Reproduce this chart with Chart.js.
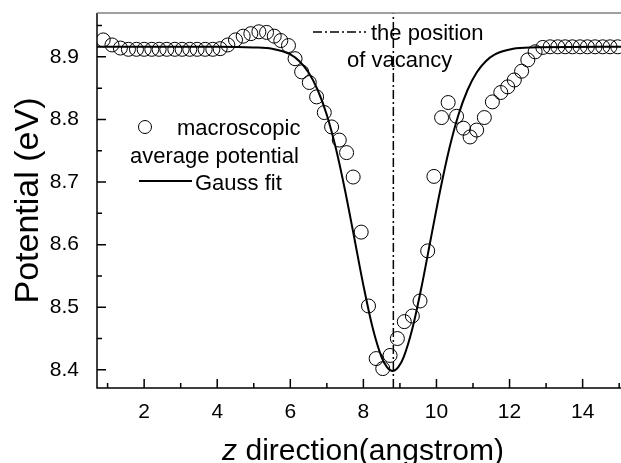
<!DOCTYPE html>
<html>
<head>
<meta charset="utf-8">
<script src="https://cdn.jsdelivr.net/npm/chart.js@4.4.1/dist/chart.umd.min.js"></script>
<style>
  html, body { margin: 0; padding: 0; background: #fff; overflow: hidden; }
</style>
</head>
<body>
<canvas id="chart" width="621" height="463"></canvas>
<script>
// macroscopic average potential (open circles)
const zValues = [0.88, 1.12, 1.35, 1.57, 1.79, 2.00, 2.21, 2.41, 2.62, 2.84,
  3.04, 3.25, 3.45, 3.67, 3.88, 4.08, 4.29, 4.50, 4.71, 4.92,
  5.14, 5.35, 5.56, 5.74, 5.95, 6.13, 6.31, 6.52, 6.72, 6.93,
  7.13, 7.34, 7.54, 7.72, 7.94, 8.14, 8.35, 8.53, 8.73, 8.93,
  9.12, 9.34, 9.55, 9.76, 9.93, 10.14, 10.32, 10.55, 10.74, 10.92,
  11.10, 11.31, 11.53, 11.76, 11.95, 12.13, 12.33, 12.50, 12.70, 12.91,
  13.11, 13.32, 13.52, 13.72, 13.93, 14.13, 14.34, 14.55, 14.75, 14.96];
const potentialValues = [8.927, 8.919, 8.914, 8.912, 8.912, 8.912, 8.912, 8.912, 8.912, 8.912,
  8.912, 8.912, 8.912, 8.912, 8.912, 8.913, 8.919, 8.927, 8.933, 8.937,
  8.940, 8.939, 8.933, 8.926, 8.918, 8.897, 8.876, 8.859, 8.836, 8.811,
  8.788, 8.767, 8.747, 8.708, 8.620, 8.502, 8.418, 8.402, 8.423, 8.450,
  8.477, 8.486, 8.510, 8.590, 8.709, 8.803, 8.827, 8.805, 8.786, 8.772,
  8.783, 8.803, 8.828, 8.843, 8.852, 8.863, 8.877, 8.895, 8.908, 8.915,
  8.916, 8.916, 8.916, 8.916, 8.916, 8.916, 8.916, 8.916, 8.916, 8.916];

// Gauss fit curve
const fitZ = [0.71, 4.0, 5.0, 5.5, 6.0, 6.25, 6.5, 6.75, 7.0, 7.25,
  7.5, 7.75, 8.0, 8.25, 8.5, 8.65, 8.8, 8.95, 9.1, 9.35,
  9.6, 9.85, 10.1, 10.35, 10.6, 10.85, 11.1, 11.35, 11.6, 12.1,
  12.6, 15.05];
const fitPotential = [8.916, 8.916, 8.915, 8.913, 8.904, 8.893, 8.875, 8.847, 8.807, 8.753,
  8.686, 8.611, 8.535, 8.468, 8.420, 8.404, 8.398, 8.404, 8.420, 8.468,
  8.535, 8.611, 8.686, 8.753, 8.807, 8.847, 8.875, 8.893, 8.904, 8.913,
  8.915, 8.916];

// position of the vacancy
const vacancyZ = 8.82;

// axes
const xRange = [0.71, 15.05];
const yRange = [8.371, 8.970];
const xMajor = [2, 4, 6, 8, 10, 12, 14];
const xMinor = [1, 3, 5, 7, 9, 11, 13, 15];
const yMajor = [8.4, 8.5, 8.6, 8.7, 8.8, 8.9];
const yMinor = [8.45, 8.55, 8.65, 8.75, 8.85, 8.95];

// texts
const yTitle = 'Potential (eV)';
const xTitleVar = 'z';
const xTitleRest = ' direction(angstrom)';
const circleLegend = ['macroscopic', 'average potential'];
const fitLegend = 'Gauss fit';
const vacancyLegend = ['the position', 'of vacancy'];

const FONT = "'Liberation Sans', Arial, sans-serif";

const overlay = {
    id: 'overlay',
    afterDatasetsDraw(chart) {
        const { ctx, chartArea: a, scales: { x, y } } = chart;
        const ds = chart.data.datasets;
        ctx.save();

        // frame
        ctx.lineWidth = 1.5;
        ctx.strokeStyle = '#000';
        ctx.beginPath();
        ctx.moveTo(a.left, a.top);
        ctx.lineTo(a.left, a.bottom);
        ctx.lineTo(a.right, a.bottom);
        ctx.stroke();
        ctx.strokeStyle = '#808080';
        ctx.beginPath();
        ctx.moveTo(a.left, a.top);
        ctx.lineTo(a.right, a.top);
        ctx.stroke();

        // inward ticks
        ctx.strokeStyle = '#000';
        ctx.beginPath();
        xMajor.forEach(v => { const p = x.getPixelForValue(v); ctx.moveTo(p, a.bottom); ctx.lineTo(p, a.bottom - 9); });
        xMinor.forEach(v => { const p = x.getPixelForValue(v); ctx.moveTo(p, a.bottom); ctx.lineTo(p, a.bottom - 5); });
        yMajor.forEach(v => { const p = y.getPixelForValue(v); ctx.moveTo(a.left, p); ctx.lineTo(a.left + 9, p); });
        yMinor.forEach(v => { const p = y.getPixelForValue(v); ctx.moveTo(a.left, p); ctx.lineTo(a.left + 5, p); });
        ctx.stroke();

        ctx.fillStyle = '#000';
        ctx.font = '22px ' + FONT;
        ctx.textBaseline = 'alphabetic';
        ctx.textAlign = 'left';

        // left legend: circles + Gauss fit
        ctx.lineWidth = 1;
        ctx.strokeStyle = ds[0].borderColor;
        ctx.beginPath();
        ctx.arc(145, 127, 6.5, 0, Math.PI * 2);
        ctx.stroke();
        ctx.fillText(circleLegend[0], 177, 135);
        ctx.fillText(circleLegend[1], 130, 163);
        ctx.lineWidth = ds[1].borderWidth;
        ctx.strokeStyle = ds[1].borderColor;
        ctx.beginPath();
        ctx.moveTo(139, 181);
        ctx.lineTo(192, 181);
        ctx.stroke();
        ctx.fillText(fitLegend, 195, 190);

        // vacancy legend
        ctx.lineWidth = ds[2].borderWidth;
        ctx.strokeStyle = ds[2].borderColor;
        ctx.setLineDash(ds[2].borderDash);
        ctx.beginPath();
        ctx.moveTo(313, 32);
        ctx.lineTo(366, 32);
        ctx.stroke();
        ctx.setLineDash([]);
        ctx.fillText(vacancyLegend[0], 371, 40);
        ctx.fillText(vacancyLegend[1], 347, 67);

        // x axis title with italic variable
        ctx.font = 'italic 30px ' + FONT;
        const w1 = ctx.measureText(xTitleVar).width;
        ctx.font = '30px ' + FONT;
        const w2 = ctx.measureText(xTitleRest).width;
        const start = 363 - (w1 + w2) / 2;
        ctx.font = 'italic 30px ' + FONT;
        ctx.fillText(xTitleVar, start, 460);
        ctx.font = '30px ' + FONT;
        ctx.fillText(xTitleRest, start + w1, 460);

        ctx.restore();
    }
};

const ctx = document.getElementById('chart');
new Chart(ctx, {
    type: 'scatter',
    data: {
        datasets: [{
            label: 'macroscopic average potential',
            data: zValues.map((z, i) => ({ x: z, y: potentialValues[i] })),
            showLine: false,
            pointStyle: 'circle',
            pointRadius: 7,
            pointBorderWidth: 1,
            borderColor: '#000',
            pointBorderColor: '#000',
            pointBackgroundColor: 'rgba(0,0,0,0)',
            order: 2
        }, {
            label: 'Gauss fit',
            data: fitZ.map((z, i) => ({ x: z, y: fitPotential[i] })),
            showLine: true,
            cubicInterpolationMode: 'monotone',
            borderColor: '#000',
            borderWidth: 2,
            pointRadius: 0,
            order: 1
        }, {
            label: 'the position of vacancy',
            data: [{ x: vacancyZ, y: yRange[0] }, { x: vacancyZ, y: yRange[1] }],
            showLine: true,
            borderColor: '#000',
            borderWidth: 1.5,
            borderDash: [9, 3, 2, 3],
            pointRadius: 0,
            order: 0
        }]
    },
    options: {
        responsive: false,
        animation: false,
        devicePixelRatio: 1,
        layout: { autoPadding: false, padding: { top: 13, left: 0, right: 0, bottom: 0 } },
        plugins: { legend: { display: false }, tooltip: { enabled: false } },
        scales: {
            x: {
                type: 'linear',
                min: xRange[0],
                max: xRange[1],
                afterBuildTicks: s => { s.ticks = xMajor.map(v => ({ value: v })); },
                afterFit: s => { s.height = 75; s.paddingLeft = 0; s.paddingRight = 0; },
                grid: { display: false },
                border: { display: false },
                ticks: {
                    autoSkip: false,
                    maxRotation: 0,
                    padding: 4,
                    color: '#000',
                    font: { family: FONT, size: 21 }
                }
            },
            y: {
                type: 'linear',
                min: yRange[0],
                max: yRange[1],
                afterBuildTicks: s => { s.ticks = yMajor.map(v => ({ value: v })); },
                afterFit: s => { s.width = 97; s.paddingTop = 0; s.paddingBottom = 0; },
                grid: { display: false },
                border: { display: false },
                ticks: {
                    autoSkip: false,
                    padding: 10,
                    color: '#000',
                    font: { family: FONT, size: 21 },
                    callback: v => v.toFixed(1)
                },
                title: {
                    display: true,
                    text: yTitle,
                    color: '#000',
                    padding: { top: 8, bottom: 0 },
                    font: { family: FONT, size: 34 }
                }
            }
        }
    },
    plugins: [overlay]
});
</script>
</body>
</html>
